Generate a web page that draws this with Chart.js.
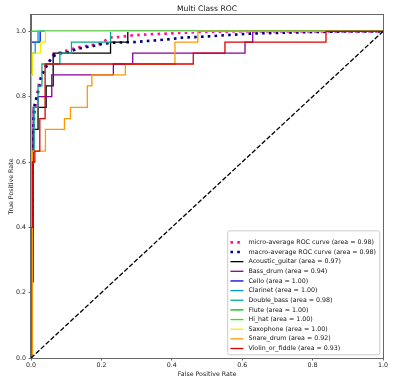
<!DOCTYPE html>
<html><head><meta charset="utf-8">
<script src="https://cdn.jsdelivr.net/npm/chart.js@4.4.0/dist/chart.umd.min.js"></script>
<style>html,body{margin:0;padding:0;background:#fff}canvas{display:block}</style>
</head><body>
<canvas id="c" width="400" height="382"></canvas>
<script>
// ---------- data ----------
const chartTitle = 'Multi Class ROC';
const xLabel = 'False Positive Rate';
const yLabel = 'True Positive Rate';
const xTicks = [0, 0.2, 0.4, 0.6, 0.8, 1.0];
const yTicks = [0, 0.2, 0.4, 0.6, 0.8, 1.0];

const classNames = ['Acoustic_guitar','Bass_drum','Cello','Clarinet','Double_bass','Flute','Hi_hat','Saxophone','Snare_drum','Violin_or_fiddle'];
const classAuc = [0.97, 0.94, 1.00, 1.00, 0.98, 1.00, 1.00, 1.00, 0.92, 0.93];
const microAuc = 0.98;
const macroAuc = 0.98;

const microFpr = [0, 0.001, 0.003, 0.0065, 0.011, 0.021, 0.026, 0.035, 0.045, 0.054, 0.063, 0.087, 0.12, 0.139, 0.168, 0.196, 0.224, 0.253, 0.29, 0.338, 0.386, 0.48, 0.62, 1];
const microTpr = [0, 0.3, 0.6, 0.707, 0.758, 0.83, 0.855, 0.881, 0.901, 0.911, 0.927, 0.937, 0.947, 0.952, 0.957, 0.962, 0.981, 0.983, 0.988, 0.991, 0.993, 0.998, 1, 1];

const macroFpr = [0, 0.002, 0.004, 0.0065, 0.009, 0.016, 0.023, 0.03, 0.04, 0.054, 0.068, 0.082, 0.106, 0.134, 0.158, 0.177, 0.205, 0.234, 0.253, 0.291, 0.338, 0.386, 0.433, 0.48, 0.622, 0.764, 0.906, 1];
const macroTpr = [0, 0.3, 0.6, 0.723, 0.769, 0.799, 0.825, 0.861, 0.886, 0.911, 0.927, 0.932, 0.937, 0.947, 0.952, 0.955, 0.962, 0.965, 0.966, 0.967, 0.971, 0.975, 0.981, 0.983, 0.993, 0.997, 1, 1];

const guitarFpr = [0, 0, 0.006, 0.006, 0.02, 0.02, 0.043, 0.043, 0.063, 0.063, 0.226, 0.226, 0.275, 0.275, 1];
const guitarTpr = [0, 0.233, 0.233, 0.7, 0.7, 0.767, 0.767, 0.833, 0.833, 0.933, 0.933, 0.967, 0.967, 1, 1];

const bassFpr = [0, 0, 0.006, 0.006, 0.02, 0.02, 0.059, 0.059, 0.234, 0.234, 0.289, 0.289, 0.608, 0.608, 0.63, 0.63, 1];
const bassTpr = [0, 0.5, 0.5, 0.767, 0.767, 0.8, 0.8, 0.867, 0.867, 0.9, 0.9, 0.933, 0.933, 0.967, 0.967, 1, 1];

const celloFpr = [0, 0, 0.026, 0.026, 1];
const celloTpr = [0, 0.967, 0.967, 1, 1];

const clarinetFpr = [0, 0, 0.004, 0.004, 0.012, 0.012, 0.02, 0.02, 1];
const clarinetTpr = [0, 0.867, 0.867, 0.933, 0.933, 0.967, 0.967, 1, 1];

const doubleBassFpr = [0, 0, 0.009, 0.009, 0.02, 0.02, 0.031, 0.031, 0.082, 0.082, 0.115, 0.115, 0.226, 0.226, 1];
const doubleBassTpr = [0, 0.633, 0.633, 0.767, 0.767, 0.833, 0.833, 0.9, 0.9, 0.933, 0.933, 0.967, 0.967, 1, 1];

const fluteFpr = [0, 0, 1];
const fluteTpr = [0, 1, 1];

const hiHatFpr = [0, 0, 1];
const hiHatTpr = [0, 1, 1];

const saxFpr = [0, 0, 0.004, 0.004, 0.027, 0.027, 0.041, 0.041, 1];
const saxTpr = [0, 0.867, 0.867, 0.933, 0.933, 0.967, 0.967, 1, 1];

const snareFpr = [0, 0.004, 0.004, 0.041, 0.041, 0.095, 0.095, 0.112, 0.112, 0.16, 0.16, 0.173, 0.173, 0.268, 0.268, 0.409, 0.409, 0.474, 0.474, 1];
const snareTpr = [0, 0, 0.633, 0.633, 0.7, 0.7, 0.733, 0.733, 0.767, 0.767, 0.833, 0.833, 0.867, 0.867, 0.9, 0.9, 0.967, 0.967, 1, 1];

const violinFpr = [0, 0, 0.004, 0.004, 0.011, 0.011, 0.025, 0.025, 0.04, 0.04, 0.461, 0.461, 0.551, 0.551, 0.838, 0.838, 1];
const violinTpr = [0, 0.4, 0.4, 0.6, 0.6, 0.633, 0.633, 0.733, 0.733, 0.9, 0.9, 0.933, 0.933, 0.967, 0.967, 1, 1];

const chanceX = [0, 1];
const chanceY = [0, 1];

// ---------- styles ----------
const classColors = ['#000000','#880099','#0000dd','#0099dd','#00aa88','#00bb00','#00ff00','#eeee00','#ff9900','#dd0000'];
const FONT = '"DejaVu Sans", sans-serif';

const classFprs = [guitarFpr, bassFpr, celloFpr, clarinetFpr, doubleBassFpr, fluteFpr, hiHatFpr, saxFpr, snareFpr, violinFpr];
const classTprs = [guitarTpr, bassTpr, celloTpr, clarinetTpr, doubleBassTpr, fluteTpr, hiHatTpr, saxTpr, snareTpr, violinTpr];

function pts(f, t) { return f.map((x, i) => ({x: x, y: t[i]})); }

const datasets = [];
datasets.push({label: 'micro-average ROC curve (area = ' + microAuc.toFixed(2) + ')', data: pts(microFpr, microTpr),
  borderColor: '#ff1493', borderWidth: 2.6, borderDash: [2.6, 4.2], inLegend: true});
datasets.push({label: 'macro-average ROC curve (area = ' + macroAuc.toFixed(2) + ')', data: pts(macroFpr, macroTpr),
  borderColor: '#000080', borderWidth: 2.6, borderDash: [2.6, 4.2], inLegend: true});
classNames.forEach((n, i) => {
  datasets.push({label: n + ' (area = ' + classAuc[i].toFixed(2) + ')', data: pts(classFprs[i], classTprs[i]),
    borderColor: classColors[i], borderWidth: 1.3, borderDash: [], inLegend: true});
});
datasets.push({label: 'chance', data: pts(chanceX, chanceY), borderColor: '#000000', borderWidth: 1.3, borderDash: [4.7, 2.0], inLegend: false});
datasets.forEach((d, i) => {
  d.order = datasets.length - i; d.pointRadius = 0; d.pointHoverRadius = 0; d.fill = false; d.tension = 0;
  d.borderCapStyle = 'butt'; d.borderJoinStyle = 'miter'; d.backgroundColor = d.borderColor;
});

const framePlugin = {
  id: 'frame',
  afterDatasetsDraw(chart) {
    const {ctx, chartArea: a} = chart;
    ctx.save();
    ctx.strokeStyle = '#666';
    ctx.lineWidth = 1;
    ctx.strokeRect(Math.round(a.left) - 0.5, Math.round(a.top) - 0.5, Math.round(a.right - a.left) + 1, Math.round(a.bottom - a.top) + 1);
    ctx.restore();
  },
  afterDraw(chart) {
    const {ctx, chartArea: a} = chart;
    ctx.save();
    // title
    ctx.fillStyle = '#111';
    ctx.font = '7.6px ' + FONT;
    ctx.textAlign = 'center';
    ctx.textBaseline = 'alphabetic';
    ctx.fillText(chartTitle, (a.left + a.right) / 2, a.top - 4.2);
    // legend
    const items = chart.data.datasets.filter(d => d.inLegend);
    const fs = 6.3, rowH = 9.65, padTop = 11.5, padBottom = 6.3, padX = 2.8, handleLen = 13, gap = 5;
    ctx.font = fs + 'px ' + FONT;
    let maxW = 0;
    items.forEach(d => { maxW = Math.max(maxW, ctx.measureText(d.label).width); });
    const right = a.right - 3.2, bottom = a.bottom - 3.2;
    const w = padX + handleLen + gap + maxW + padX + 1;
    const h = padTop + (items.length - 1) * rowH + padBottom;
    const left = right - w, top = bottom - h;
    ctx.beginPath();
    const r = 2;
    ctx.moveTo(left + r, top);
    ctx.lineTo(right - r, top); ctx.quadraticCurveTo(right, top, right, top + r);
    ctx.lineTo(right, bottom - r); ctx.quadraticCurveTo(right, bottom, right - r, bottom);
    ctx.lineTo(left + r, bottom); ctx.quadraticCurveTo(left, bottom, left, bottom - r);
    ctx.lineTo(left, top + r); ctx.quadraticCurveTo(left, top, left + r, top);
    ctx.closePath();
    ctx.fillStyle = 'rgba(255,255,255,0.8)';
    ctx.fill();
    ctx.strokeStyle = '#cccccc';
    ctx.lineWidth = 1;
    ctx.stroke();
    items.forEach((d, i) => {
      const y = top + padTop + i * rowH;
      const x0 = left + padX;
      ctx.save();
      ctx.strokeStyle = d.borderColor;
      ctx.lineWidth = d.borderWidth;
      ctx.lineCap = 'butt';
      ctx.setLineDash(d.borderDash || []);
      ctx.beginPath();
      ctx.moveTo(x0, y); ctx.lineTo(x0 + handleLen, y);
      ctx.stroke();
      ctx.restore();
      ctx.fillStyle = '#111';
      ctx.textAlign = 'left';
      ctx.textBaseline = 'middle';
      ctx.fillText(d.label, x0 + handleLen + gap, y);
    });
    ctx.restore();
  }
};

new Chart(document.getElementById('c'), {
  type: 'line',
  data: {datasets: datasets},
  options: {
    responsive: false,
    devicePixelRatio: 1,
    animation: false,
    parsing: true,
    layout: {padding: {left: 0, right: 17, top: 15, bottom: 0}},
    plugins: {legend: {display: false}, tooltip: {enabled: false}, title: {display: false}},
    scales: {
      x: {
        type: 'linear', min: 0, max: 1,
        afterBuildTicks: s => { s.ticks = xTicks.map(v => ({value: v})); },
        afterFit: s => { s.height = 24; },
        ticks: {callback: v => Number(v).toFixed(1), font: {family: FONT, size: 6.3}, color: '#222', padding: 1, maxRotation: 0, autoSkip: false},
        grid: {display: true, drawOnChartArea: false, drawTicks: true, tickLength: 2.5, tickColor: '#666', tickWidth: 1, color: '#666'},
        border: {display: true, color: '#666', width: 1},
        title: {display: true, text: xLabel, font: {family: FONT, size: 6.3}, color: '#222', padding: {top: 0, bottom: 4.2}}
      },
      y: {
        type: 'linear', min: 0, max: 1.05,
        afterBuildTicks: s => { s.ticks = yTicks.map(v => ({value: v})); },
        afterFit: s => { s.width = 31; },
        ticks: {callback: v => Number(v).toFixed(1), font: {family: FONT, size: 6.3}, color: '#222', padding: 2.5, autoSkip: false},
        grid: {display: true, drawOnChartArea: false, drawTicks: true, tickLength: 2.5, tickColor: '#666', tickWidth: 1, color: '#666'},
        border: {display: true, color: '#666', width: 1},
        title: {display: true, text: yLabel, font: {family: FONT, size: 6.3}, color: '#222', padding: {top: 7.5, bottom: 0}}
      }
    }
  },
  plugins: [framePlugin]
});
</script>
</body></html>
